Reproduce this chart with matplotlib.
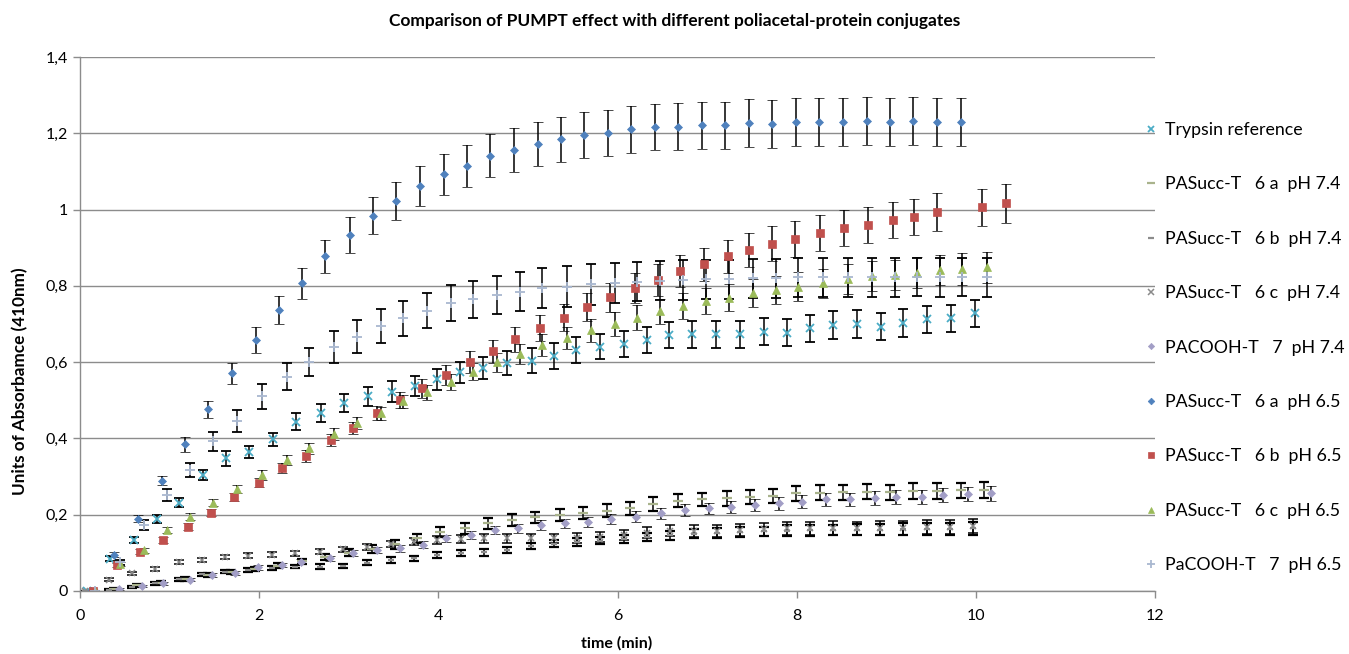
import matplotlib
matplotlib.use("Agg")
import matplotlib.pyplot as plt
from matplotlib.lines import Line2D

plt.rcParams['font.family'] = ['Lato', 'DejaVu Sans']

title = "Comparison of PUMPT effect with different poliacetal-protein conjugates"
xlabel = "time (min)"
ylabel = "Units of Absorbamce (410nm)"
x_ticks = [0, 2, 4, 6, 8, 10, 12]
y_ticks = [0, 0.2, 0.4, 0.6, 0.8, 1.0, 1.2, 1.4]
y_tick_labels = ["0", "0,2", "0,4", "0,6", "0,8", "1", "1,2", "1,4"]

labels = ["Trypsin reference",
          "PASucc-T   6 a  pH 7.4",
          "PASucc-T   6 b  pH 7.4",
          "PASucc-T   6 c  pH 7.4",
          "PACOOH-T   7  pH 7.4",
          "PASucc-T   6 a  pH 6.5",
          "PASucc-T   6 b  pH 6.5",
          "PASucc-T   6 c  pH 6.5",
          "PaCOOH-T   7  pH 6.5"]

# ---- Trypsin reference
t_tryp = [0.08, 0.34, 0.60, 0.86, 1.10, 1.37, 1.63, 1.89, 2.15, 2.41, 2.69, 2.95, 3.22,
          3.48, 3.74, 3.99, 4.24, 4.50, 4.77, 5.04, 5.29, 5.54, 5.80, 6.07, 6.33, 6.58,
          6.83, 7.10, 7.37, 7.63, 7.89, 8.15, 8.40, 8.67, 8.94, 9.19, 9.45, 9.72, 9.99]
v_tryp = [0, 0.085, 0.134, 0.188, 0.232, 0.304, 0.348, 0.364, 0.398, 0.444,
          0.466, 0.492, 0.510, 0.523, 0.538, 0.555, 0.573, 0.585, 0.597, 0.604,
          0.616, 0.632, 0.641, 0.647, 0.658, 0.671, 0.673, 0.673, 0.673, 0.680,
          0.677, 0.689, 0.697, 0.700, 0.693, 0.703, 0.712, 0.715, 0.728]
e_tryp = [0, 0.006, 0.008, 0.010, 0.011, 0.013, 0.019, 0.016, 0.017, 0.022,
          0.023, 0.024, 0.025, 0.027, 0.026, 0.027, 0.028, 0.029, 0.031, 0.033,
          0.033, 0.034, 0.034, 0.034, 0.035, 0.035, 0.035, 0.035, 0.035, 0.035,
          0.035, 0.035, 0.036, 0.036, 0.036, 0.036, 0.036, 0.036, 0.036]

# ---- pH 7.4 series (low cluster)
t_6a74 = [0.12, 0.38, 0.64, 0.90, 1.17, 1.43, 1.69, 1.95, 2.21, 2.48, 2.74, 3.00, 3.26,
          3.52, 3.76, 4.02, 4.30, 4.56, 4.82, 5.08, 5.36, 5.62, 5.88, 6.14, 6.40, 6.68,
          6.94, 7.22, 7.48, 7.74, 7.99, 8.26, 8.52, 8.78, 9.04, 9.30, 9.57, 9.83, 10.09]
v_6a74 = [0, 0.006, 0.015, 0.022, 0.032, 0.043, 0.050, 0.058, 0.066, 0.078,
          0.090, 0.100, 0.110, 0.122, 0.138, 0.155, 0.164, 0.177, 0.186, 0.193,
          0.199, 0.205, 0.210, 0.217, 0.228, 0.237, 0.240, 0.243, 0.247, 0.249,
          0.256, 0.258, 0.259, 0.260, 0.259, 0.262, 0.262, 0.264, 0.265]
e_6a74 = [0, 0.003, 0.004, 0.004, 0.005, 0.005, 0.006, 0.006, 0.007, 0.007,
          0.008, 0.009, 0.010, 0.011, 0.012, 0.013, 0.014, 0.014, 0.015, 0.015,
          0.016, 0.016, 0.017, 0.017, 0.018, 0.018, 0.018, 0.019, 0.019, 0.019,
          0.019, 0.020, 0.020, 0.020, 0.020, 0.020, 0.020, 0.020, 0.020]

t_low = [0.06, 0.32, 0.58, 0.84, 1.10, 1.36, 1.62, 1.88, 2.14, 2.40, 2.68, 2.94, 3.20,
         3.47, 3.73, 3.99, 4.25, 4.51, 4.77, 5.03, 5.29, 5.55, 5.81, 6.07, 6.33, 6.59,
         6.85, 7.11, 7.37, 7.63, 7.89, 8.15, 8.41, 8.67, 8.93, 9.19, 9.45, 9.71, 9.97]
v_6b74 = [0, 0.003, 0.011, 0.020, 0.031, 0.044, 0.051, 0.055, 0.060, 0.064,
          0.064, 0.066, 0.074, 0.081, 0.086, 0.094, 0.099, 0.101, 0.107, 0.118,
          0.124, 0.128, 0.132, 0.137, 0.142, 0.146, 0.150, 0.152, 0.154, 0.156,
          0.158, 0.159, 0.160, 0.161, 0.161, 0.162, 0.163, 0.163, 0.164]
e_6b74 = [0, 0.003, 0.003, 0.004, 0.004, 0.004, 0.005, 0.005, 0.005, 0.005,
          0.006, 0.006, 0.006, 0.007, 0.007, 0.007, 0.008, 0.008, 0.008, 0.009,
          0.009, 0.010, 0.010, 0.011, 0.011, 0.012, 0.012, 0.013, 0.013, 0.013,
          0.014, 0.014, 0.014, 0.015, 0.015, 0.015, 0.015, 0.016, 0.016]
v_6c74 = [0, 0.029, 0.046, 0.057, 0.075, 0.082, 0.089, 0.093, 0.095, 0.099,
          0.103, 0.109, 0.115, 0.124, 0.129, 0.134, 0.136, 0.138, 0.138, 0.138,
          0.138, 0.139, 0.141, 0.147, 0.153, 0.158, 0.158, 0.158, 0.159, 0.162,
          0.164, 0.164, 0.166, 0.164, 0.165, 0.166, 0.168, 0.168, 0.170]
e_6c74 = [0, 0.004, 0.005, 0.005, 0.005, 0.005, 0.006, 0.006, 0.006, 0.006,
          0.007, 0.007, 0.008, 0.008, 0.009, 0.010, 0.010, 0.011, 0.011, 0.012,
          0.012, 0.012, 0.013, 0.014, 0.015, 0.015, 0.016, 0.016, 0.016, 0.017,
          0.017, 0.017, 0.018, 0.018, 0.018, 0.018, 0.019, 0.019, 0.019]

t_7_74 = [0.17, 0.43, 0.69, 0.93, 1.23, 1.47, 1.73, 1.99, 2.25, 2.47, 2.79, 3.05, 3.31,
          3.57, 3.83, 4.09, 4.37, 4.63, 4.89, 5.15, 5.41, 5.67, 5.93, 6.21, 6.49, 6.75,
          7.02, 7.27, 7.53, 7.80, 8.06, 8.33, 8.60, 8.87, 9.11, 9.40, 9.63, 9.91, 10.17]
v_7_74 = [0, 0.005, 0.013, 0.020, 0.029, 0.042, 0.048, 0.062, 0.068, 0.077,
          0.086, 0.099, 0.107, 0.112, 0.121, 0.138, 0.147, 0.160, 0.164, 0.173,
          0.177, 0.182, 0.188, 0.195, 0.204, 0.212, 0.217, 0.221, 0.225, 0.230,
          0.234, 0.240, 0.240, 0.243, 0.247, 0.246, 0.252, 0.254, 0.256]
e_7_74 = [0, 0.003, 0.003, 0.004, 0.004, 0.005, 0.005, 0.006, 0.006, 0.007,
          0.007, 0.008, 0.008, 0.009, 0.009, 0.010, 0.010, 0.011, 0.011, 0.012,
          0.012, 0.013, 0.013, 0.014, 0.014, 0.015, 0.015, 0.016, 0.016, 0.017,
          0.017, 0.017, 0.018, 0.018, 0.018, 0.018, 0.019, 0.019, 0.019]

# ---- pH 6.5 series
t_6a65 = [0.12, 0.38, 0.65, 0.91, 1.17, 1.43, 1.70, 1.96, 2.22, 2.48, 2.74, 3.01, 3.27,
          3.53, 3.79, 4.06, 4.32, 4.58, 4.84, 5.11, 5.37, 5.63, 5.89, 6.15, 6.42, 6.68,
          6.94, 7.20, 7.47, 7.73, 7.99, 8.25, 8.52, 8.78, 9.04, 9.30, 9.57, 9.83]
v_6a65 = [0, 0.095, 0.190, 0.289, 0.385, 0.476, 0.571, 0.658, 0.737, 0.807,
          0.877, 0.933, 0.984, 1.023, 1.062, 1.093, 1.114, 1.141, 1.156, 1.171,
          1.184, 1.196, 1.200, 1.210, 1.216, 1.217, 1.221, 1.221, 1.228, 1.224,
          1.230, 1.229, 1.230, 1.231, 1.230, 1.232, 1.230, 1.229]
e_6a65 = [0, 0.006, 0.009, 0.012, 0.020, 0.023, 0.028, 0.033, 0.037, 0.041,
          0.044, 0.047, 0.048, 0.050, 0.052, 0.054, 0.055, 0.056, 0.058, 0.058,
          0.059, 0.060, 0.060, 0.061, 0.061, 0.062, 0.062, 0.062, 0.063, 0.063,
          0.063, 0.063, 0.063, 0.063, 0.063, 0.064, 0.063, 0.063]

t_6b65 = [0.15, 0.41, 0.67, 0.93, 1.20, 1.46, 1.72, 2.00, 2.26, 2.52, 2.80, 3.05, 3.31,
          3.57, 3.82, 4.08, 4.35, 4.61, 4.86, 5.13, 5.40, 5.66, 5.92, 6.19, 6.45, 6.70,
          6.97, 7.23, 7.47, 7.73, 7.98, 8.26, 8.53, 8.80, 9.07, 9.31, 9.57, 10.07, 10.34]
v_6b65 = [0, 0.068, 0.103, 0.134, 0.169, 0.205, 0.246, 0.284, 0.322, 0.354,
          0.396, 0.427, 0.466, 0.501, 0.531, 0.566, 0.600, 0.629, 0.660, 0.689,
          0.717, 0.744, 0.770, 0.794, 0.815, 0.839, 0.857, 0.877, 0.894, 0.910,
          0.922, 0.938, 0.951, 0.960, 0.973, 0.981, 0.994, 1.006, 1.016]
e_6b65 = [0, 0.005, 0.006, 0.007, 0.008, 0.009, 0.010, 0.011, 0.013, 0.015,
          0.016, 0.016, 0.018, 0.020, 0.024, 0.026, 0.028, 0.030, 0.033, 0.034,
          0.036, 0.037, 0.038, 0.039, 0.041, 0.042, 0.043, 0.044, 0.045, 0.046,
          0.047, 0.047, 0.047, 0.048, 0.048, 0.048, 0.049, 0.049, 0.050]

t_6c65 = [0.17, 0.45, 0.71, 0.97, 1.23, 1.49, 1.75, 2.03, 2.31, 2.56, 2.83, 3.09, 3.36,
          3.61, 3.87, 4.14, 4.39, 4.65, 4.91, 5.16, 5.44, 5.70, 5.97, 6.22, 6.47, 6.73,
          6.99, 7.25, 7.51, 7.77, 8.02, 8.29, 8.57, 8.84, 9.10, 9.34, 9.60, 9.85, 10.12]
v_6c65 = [0, 0.070, 0.107, 0.160, 0.195, 0.232, 0.267, 0.304, 0.343, 0.374,
          0.412, 0.440, 0.466, 0.497, 0.521, 0.549, 0.575, 0.600, 0.621, 0.645,
          0.663, 0.683, 0.700, 0.717, 0.733, 0.747, 0.760, 0.769, 0.782, 0.789,
          0.798, 0.807, 0.817, 0.826, 0.829, 0.835, 0.842, 0.844, 0.849]
e_6c65 = [0, 0.005, 0.007, 0.008, 0.009, 0.010, 0.011, 0.012, 0.013, 0.014,
          0.015, 0.016, 0.017, 0.018, 0.020, 0.021, 0.023, 0.025, 0.026, 0.028,
          0.029, 0.030, 0.031, 0.032, 0.033, 0.034, 0.035, 0.036, 0.037, 0.037,
          0.038, 0.038, 0.039, 0.039, 0.040, 0.040, 0.040, 0.041, 0.041]

v_7_65 = [0, 0.075, 0.173, 0.252, 0.317, 0.392, 0.446, 0.510, 0.562, 0.601,
          0.639, 0.667, 0.695, 0.715, 0.735, 0.754, 0.765, 0.776, 0.785, 0.795,
          0.798, 0.804, 0.807, 0.811, 0.814, 0.815, 0.817, 0.817, 0.820, 0.820,
          0.822, 0.822, 0.822, 0.822, 0.822, 0.823, 0.822, 0.823, 0.822]
e_7_65 = [0, 0.006, 0.012, 0.015, 0.019, 0.026, 0.028, 0.032, 0.036, 0.037,
          0.042, 0.043, 0.044, 0.046, 0.046, 0.047, 0.049, 0.050, 0.051, 0.053,
          0.053, 0.053, 0.052, 0.052, 0.052, 0.052, 0.051, 0.051, 0.051, 0.051,
          0.050, 0.050, 0.050, 0.050, 0.050, 0.050, 0.050, 0.050, 0.050]

series = [
    (t_tryp, v_tryp, e_tryp, 'x', '#4bacc6', 6.0, 1.3),
    (t_6a74, v_6a74, e_6a74, '_', '#a9b38c', 7.0, 1.6),
    (t_low, v_6b74, e_6b74, '_', '#8c8c8c', 5.0, 1.6),
    (t_low, v_6c74, e_6c74, 'x', '#8a8a8a', 5.0, 1.1),
    (t_7_74, v_7_74, e_7_74, 'D', '#a29ec6', 4.0, 0.5),
    (t_6a65, v_6a65, e_6a65, 'D', '#4f81bd', 4.2, 0.5),
    (t_6b65, v_6b65, e_6b65, 's', '#c0504d', 5.2, 0.5),
    (t_6c65, v_6c65, e_6c65, '^', '#9bbb59', 5.8, 0.5),
    (t_6c65, v_7_65, e_7_65, '+', '#a9b8d0', 7.0, 1.3),
]

W, H = 1349, 654
fig = plt.figure(figsize=(W / 100, H / 100), dpi=100)
ax = fig.add_axes([80 / W, 1 - 591 / H, 1075 / W, 534 / H])

for t, v, e, m, c, ms, mew in series:
    ax.errorbar(t, v, yerr=e, fmt=m, color=c, ms=ms, mew=mew,
                ecolor='black', elinewidth=1.1, capsize=3.6, capthick=1.1,
                linestyle='none')

ax.set_xlim(0, 12)
ax.set_ylim(0, 1.4)
ax.set_xticks(x_ticks)
ax.set_xticklabels([str(x) for x in x_ticks])
ax.set_yticks(y_ticks)
ax.set_yticklabels(y_tick_labels)
ax.grid(axis='y', color='#8c8c8c', linewidth=1.0)
ax.set_axisbelow(True)
for s in ['top', 'right']:
    ax.spines[s].set_visible(False)
for s in ['left', 'bottom']:
    ax.spines[s].set_color('#8c8c8c')
    ax.spines[s].set_linewidth(1.0)
ax.tick_params(axis='both', colors='#8c8c8c', labelcolor='black', labelsize=11.5,
               length=5, width=1.0, direction='out')
ax.tick_params(axis='x', pad=8)

fig.text(0.5, 1 - 21 / H, title, ha='center', va='center', fontsize=12.5, fontweight='bold')
fig.text(617 / W, 1 - 643 / H, xlabel, ha='center', va='center',
         fontsize=11.5, fontweight='bold')
fig.text(20 / W, 1 - 381 / H, ylabel, rotation=90, ha='center', va='center',
         fontsize=12.3, fontweight='bold')

handles = [Line2D([], [], linestyle='none', marker=m, color=c, ms=ms * 0.8, mew=mew)
           for (_, _, _, m, c, ms, mew) in series]
leg = fig.legend(handles, labels, loc='upper left', bbox_to_anchor=(1145 / W, 1 - 122 / H),
                 frameon=False, fontsize=12.8, handlelength=0.7, handletextpad=0.45,
                 labelspacing=2.16, borderpad=0, borderaxespad=0)

fig.savefig('out.png', dpi=100)
